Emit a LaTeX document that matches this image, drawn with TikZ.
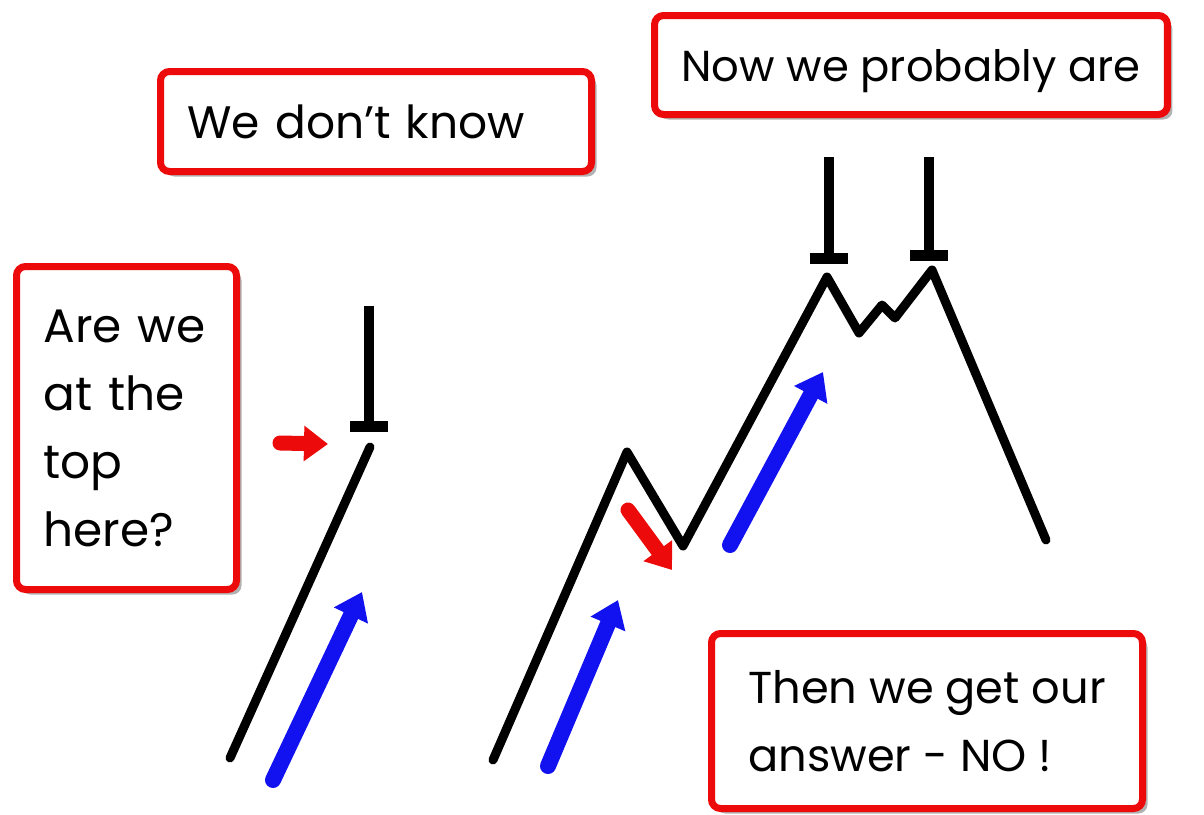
\documentclass[tikz,border=0pt]{standalone}
\usepackage{fontspec}
\setmainfont{Poppins}
\usetikzlibrary{arrows.meta,shadows}

\definecolor{boxred}{RGB}{236,10,10}
\definecolor{upblue}{RGB}{18,18,240}

\begin{document}
\begin{tikzpicture}[
  x=1pt, y=-1pt,
  msg/.style={draw=boxred, line width=7pt, fill=white, rounded corners=9pt,
    inner xsep=27pt, inner ysep=0pt, align=left,
    drop shadow={shadow xshift=5pt, shadow yshift=-5pt, opacity=0.5, fill=black!60}},
  price/.style={line width=9pt, line join=round, line cap=round},
  topbar/.style={line width=10pt},
  uparrow/.style={upblue, line width=16pt, line cap=round,
    -{Triangle[width=36pt,length=26pt]}},
  hint/.style={boxred, line width=15pt, line cap=round,
    -{Triangle[width=34pt,length=24pt]}}
]
\useasboundingbox[fill=white] (0,0) rectangle (1204,814);

% the text boxes
\node[msg, text width=377pt, minimum height=100pt,
  font=\fontsize{45.5}{60}\selectfont] (dontknow) at (376,121.5) {We don't know};
\node[msg, minimum width=511pt, minimum height=99pt, text depth=0pt,
  font=\fontsize{43.3}{60}\selectfont] (probably) at (911,65) {Now we probably are};
\node[msg, text width=166pt, minimum height=323pt,
  font=\fontsize{47}{68}\selectfont] (topq) at (126.5,428) {Are we\\at the\\top\\here?};
\node[msg, minimum width=431pt, minimum height=175pt,
  font=\fontsize{44.7}{68}\selectfont] (answer) at (927,721) {Then we get our\\answer - NO !};

% price paths
\coordinate (l0) at (230,758);
\coordinate (l1) at (370,447);
\coordinate (z0) at (493,760);
\coordinate (z1) at (627,452);
\coordinate (z2) at (683,546);
\coordinate (z3) at (827,277);
\coordinate (z4) at (859,333);
\coordinate (z5) at (882,305);
\coordinate (z6) at (895,318);
\coordinate (z7) at (932,270);
\coordinate (z8) at (1046,540);
\draw[price] (l0) -- (l1);
\draw[price] (z0) -- (z1) -- (z2) -- (z3) -- (z4) -- (z5) -- (z6) -- (z7) -- (z8);

% top marks
\coordinate (b0) at (369,426.5);
\coordinate (b1) at (829,258);
\coordinate (b2) at (928.5,255);
\draw[topbar] (b0) -- ++(0,-121);
\fill (b0) ++(-19,-5.5) rectangle ++(38,11);
\draw[topbar] (b1) -- ++(0,-101);
\fill (b1) ++(-19,-5.5) rectangle ++(38,11);
\draw[topbar] (b2) -- ++(0,-98);
\fill (b2) ++(-19,-5.5) rectangle ++(38,11);

% arrows
\draw[uparrow] (273,780) -- (362,592);
\draw[uparrow] (548,766) -- (618,600);
\draw[uparrow] (730,545) -- (823,372);
\draw[hint] (280,443) -- (328,444);
\draw[hint] (628,510) -- (672,570);
\end{tikzpicture}
\end{document}
